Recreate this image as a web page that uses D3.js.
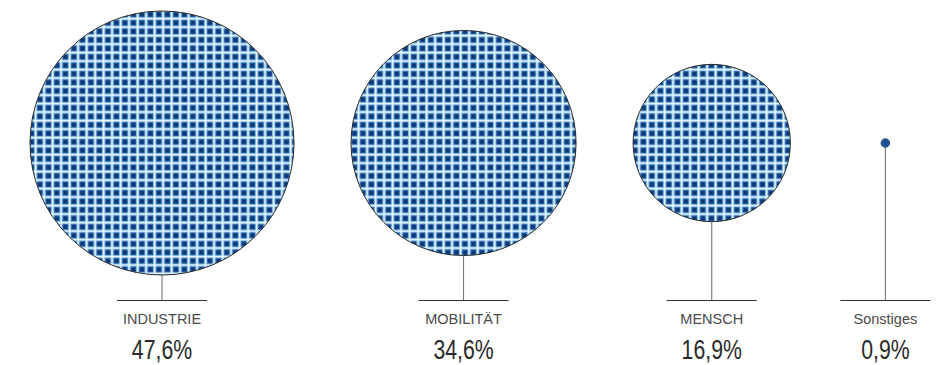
<!DOCTYPE html>
<html lang="de">
<head>
<meta charset="utf-8">
<script src="https://cdn.jsdelivr.net/npm/d3@7"></script>
<style>
  html, body { margin: 0; padding: 0; background: #fff; }
  svg { display: block; }
</style>
</head>
<body>
<svg id="chart" width="938" height="365"></svg>
<script>
// Anteile nach Bereich (in Prozent)
const categories = ["INDUSTRIE", "MOBILITÄT", "MENSCH", "Sonstiges"];
const shares = [47.6, 34.6, 16.9, 0.9];
const valueLabels = ["47,6%", "34,6%", "16,9%", "0,9%"];

const W = 938, H = 365;
const svg = d3.select("#chart");

// Kreisfläche proportional zum Anteil
const r = d3.scaleSqrt().domain([0, d3.max(shares)]).range([0, 132]);
const markerMin = 2;          // unter diesem Anteil nur ein Punkt
const markerR = 4.3;
const cy = 143;
const baseY = 300;
const leftPad = 30, gap = 57, minSlot = 76, ruleW = 90;

const data = categories.map((c, i) => ({
  name: c, value: shares[i], label: valueLabels[i],
  rad: r(shares[i]), small: shares[i] < markerMin
}));

// Horizontale Anordnung: Kreise nebeneinander mit festem Abstand
let x = leftPad;
data.forEach(d => {
  const slot = Math.max(2 * d.rad, minSlot);
  d.cx = x + slot / 2;
  x += slot + gap;
});

const defs = svg.append("defs");

// Karomuster der Kreisfüllung
const p = 8.5;
const pat = defs.append("pattern")
  .attr("id", "karo")
  .attr("patternUnits", "userSpaceOnUse")
  .attr("width", p).attr("height", p);
pat.append("rect").attr("width", p).attr("height", p).attr("fill", "#2963ab");
pat.append("rect").attr("x", 3.9).attr("y", 3.9).attr("width", 4.0).attr("height", 4.0)
  .attr("fill", "#0f3776");
[[0, 3.2, "#6aa9dc", 0.8], [0.6, 2.0, "#b4e1f7", 0.92], [1.1, 1.0, "#f2fbff", 1]].forEach(([o, w, c, op]) => {
  pat.append("rect").attr("x", o).attr("y", 0).attr("width", w).attr("height", p)
    .attr("fill", c).attr("opacity", op);
  pat.append("rect").attr("x", 0).attr("y", o).attr("width", p).attr("height", w)
    .attr("fill", c).attr("opacity", op);
});

// leichte Unschärfe des Gewebes
defs.append("filter").attr("id", "weich")
  .attr("x", "-5%").attr("y", "-5%").attr("width", "110%").attr("height", "110%")
  .append("feGaussianBlur").attr("stdDeviation", 0.6);

const g = svg.append("g");

// Verbindungslinien vom Kreis zur Grundlinie
g.selectAll("line.stem").data(data).join("line")
  .attr("class", "stem")
  .attr("x1", d => d.cx).attr("x2", d => d.cx)
  .attr("y1", d => cy + (d.small ? markerR : d.rad))
  .attr("y2", baseY)
  .attr("stroke", "#777").attr("stroke-width", 1.1);

// Grundlinien
g.selectAll("line.rule").data(data).join("line")
  .attr("class", "rule")
  .attr("x1", d => d.cx - ruleW / 2).attr("x2", d => d.cx + ruleW / 2)
  .attr("y1", baseY + 0.5).attr("y2", baseY + 0.5)
  .attr("stroke", "#333").attr("stroke-width", 1);

// Kreise: unscharfe Musterfläche, scharf beschnitten, darüber die Kontur
const big = data.filter(d => !d.small);
defs.selectAll("clipPath").data(big).join("clipPath")
  .attr("id", (d, i) => "clip" + i)
  .append("circle")
  .attr("cx", d => d.cx).attr("cy", cy).attr("r", d => d.rad);

g.selectAll("g.bubble").data(big).join("g")
  .attr("class", "bubble")
  .attr("clip-path", (d, i) => `url(#clip${i})`)
  .append("circle")
  .attr("cx", d => d.cx).attr("cy", cy).attr("r", d => d.rad + 2)
  .attr("fill", "url(#karo)")
  .attr("filter", "url(#weich)");

g.selectAll("circle.outline").data(big).join("circle")
  .attr("class", "outline")
  .attr("cx", d => d.cx).attr("cy", cy).attr("r", d => d.rad)
  .attr("fill", "none")
  .attr("stroke", "#2b2b2b").attr("stroke-width", 1);

// Punkt für sehr kleine Anteile
g.selectAll("circle.marker").data(data.filter(d => d.small)).join("circle")
  .attr("class", "marker")
  .attr("cx", d => d.cx).attr("cy", cy).attr("r", markerR)
  .attr("fill", "#1d5296").attr("stroke", "#163a6a").attr("stroke-width", 0.8);

// Beschriftungen
g.selectAll("text.cat").data(data).join("text")
  .attr("class", "cat")
  .attr("x", d => d.cx).attr("y", 324)
  .attr("text-anchor", "middle")
  .attr("font-family", "'Liberation Sans', Arial, sans-serif")
  .attr("font-size", 14.5)
  .attr("fill", "#4a4a4a")
  .text(d => d.name);

// Prozentwerte in schmaler Schrift
g.selectAll("text.val").data(data).join("text")
  .attr("class", "val")
  .attr("transform", d => `translate(${d.cx},359) scale(0.76,1)`)
  .attr("text-anchor", "middle")
  .attr("font-family", "'Liberation Sans', Arial, sans-serif")
  .attr("font-size", 28)
  .attr("fill", "#2a2a2a")
  .text(d => d.label);
</script>
</body>
</html>
